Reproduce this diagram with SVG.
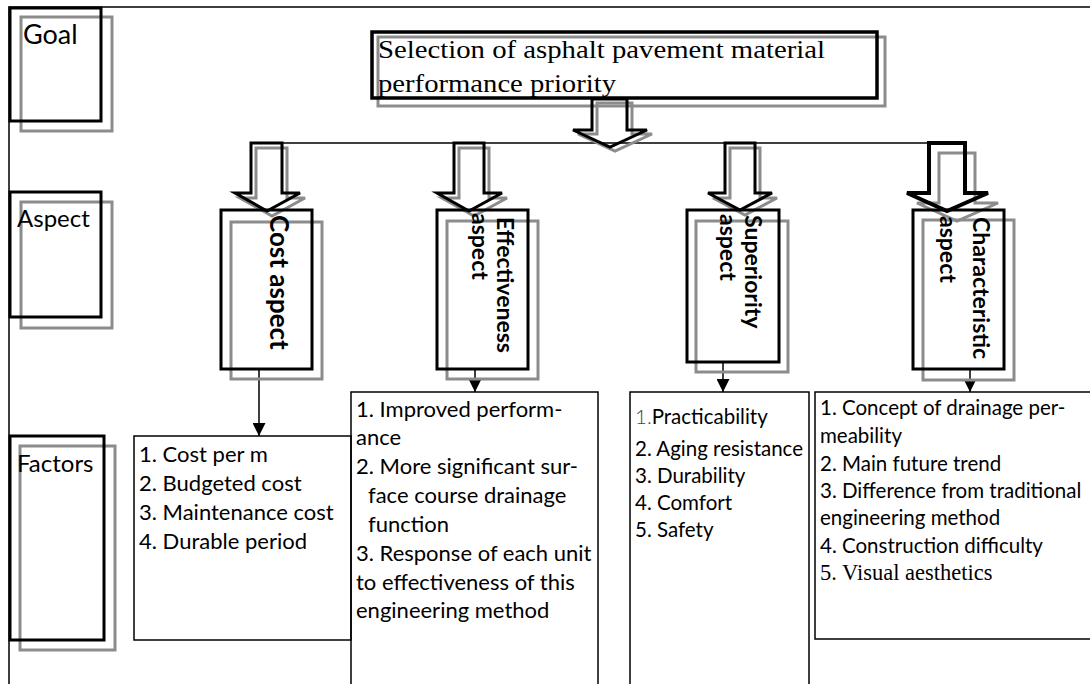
<svg xmlns="http://www.w3.org/2000/svg" width="1090" height="684" viewBox="0 0 1090 684">
<style>
.blk{fill:none;stroke:#000;stroke-width:3}
.gry{fill:none;stroke:#8c8c8c;stroke-width:3}
.thin{fill:none;stroke:#000;stroke-width:1.5}
.lbl{font-family:Lato,"Liberation Sans",sans-serif;font-size:24px;fill:#000}
.rot{font-family:Lato,"Liberation Sans",sans-serif;font-size:23px;font-weight:bold;fill:#000}
.body{font-family:Lato,"Liberation Sans",sans-serif;font-size:22px;fill:#000}
.small{font-family:Lato,"Liberation Sans",sans-serif;font-size:20.5px;fill:#000}
.serif{font-family:"Liberation Serif","Times New Roman",serif;fill:#000}
</style>
<defs>
<marker id="ah" markerUnits="userSpaceOnUse" markerWidth="13" markerHeight="13" refX="13" refY="6.5" orient="auto">
<path d="M0,0 L13,6.5 L0,13 z" fill="#000"/>
</marker>
</defs>

<g id="frame">
<path class="thin" d="M9,684 V7 H1090"/>
</g>

<g id="goal-label">
<rect class="gry" x="21" y="17" width="91" height="114"/>
<rect class="blk" x="10" y="8" width="91" height="113"/>
<text class="lbl" x="23" y="44" style="font-size:27px">Goal</text>
</g>
<g id="aspect-label">
<rect class="gry" x="21" y="202" width="91" height="126"/>
<rect class="blk" x="10" y="192" width="91" height="125"/>
<text class="lbl" x="17" y="227">Aspect</text>
</g>
<g id="factors-label">
<rect class="gry" x="20" y="446" width="95" height="204"/>
<rect class="blk" x="10" y="436" width="94" height="204"/>
<text class="lbl" x="17" y="472">Factors</text>
</g>

<g id="title">
<text class="serif" font-size="25" x="378" y="58" textLength="447" lengthAdjust="spacingAndGlyphs">Selection of asphalt pavement material</text>
<text class="serif" font-size="25" x="378" y="92" textLength="238" lengthAdjust="spacingAndGlyphs">performance priority</text>
<rect class="gry" x="378" y="37" width="507" height="69"/>
<rect class="blk" x="372" y="32" width="505" height="66" style="stroke-width:3.5"/>
</g>

<g id="connectors">
<line class="thin" x1="251" y1="143" x2="965" y2="143"/>
<polygon class="gry" points="597,103 632,103 632,134 652,134 615,151 578,134 597,134"/>
<polygon class="blk" points="592,99 627,99 627,130 647,130 610,147 573,130 592,130"/>
<polygon class="gry" points="256,148 287,148 287,198 305,198 272,216 240,198 256,198"/>
<polygon class="blk" points="251,143 282,143 282,193 300,193 267,211 235,193 251,193"/>
<polygon class="gry" points="459,148 489,148 489,198 507,198 474,216 442,198 459,198"/>
<polygon class="blk" points="454,143 484,143 484,193 502,193 469,211 437,193 454,193"/>
<polygon class="gry" points="730,148 760,148 760,198 777,198 745,215 713,198 730,198"/>
<polygon class="blk" points="725,143 755,143 755,193 772,193 740,210 708,193 725,193"/>
<polygon class="gry" points="939,153 975,153 975,203 998,203 957,221 917,203 939,203"/>
<polygon class="blk" points="929,143 965,143 965,193 988,193 947,211 907,193 929,193" style="stroke-width:4"/>
<line class="thin" x1="259" y1="369" x2="259" y2="436" marker-end="url(#ah)"/>
<line class="thin" x1="475" y1="369" x2="475" y2="392" marker-end="url(#ah)"/>
<line class="thin" x1="723" y1="362" x2="723" y2="392" marker-end="url(#ah)"/>
<line class="thin" x1="970" y1="369" x2="970" y2="392" marker-end="url(#ah)"/>
</g>

<g id="cost-aspect">
<rect class="gry" x="231" y="222" width="91" height="157"/>
<rect class="blk" x="221" y="210" width="91" height="159"/>
<text class="rot" style="font-size:26px" transform="translate(270,215) rotate(90)">Cost aspect</text>
</g>
<g id="effectiveness-aspect">
<rect class="gry" x="447" y="221" width="91" height="158"/>
<rect class="blk" x="437" y="210" width="91" height="159"/>
<text class="rot" transform="translate(497,217) rotate(90)">Effectiveness</text>
<text class="rot" transform="translate(472,213) rotate(90)">aspect</text>
</g>
<g id="superiority-aspect">
<rect class="gry" x="696" y="221" width="92" height="151"/>
<rect class="blk" x="687" y="210" width="92" height="152"/>
<text class="rot" transform="translate(745,215) rotate(90)">Superiority</text>
<text class="rot" transform="translate(720,214) rotate(90)">aspect</text>
</g>
<g id="characteristic-aspect">
<rect class="gry" x="923" y="220" width="91" height="160"/>
<rect class="blk" x="913" y="210" width="91" height="159"/>
<text class="rot" transform="translate(973,217) rotate(90)">Characteristic</text>
<text class="rot" transform="translate(940,216) rotate(90)">aspect</text>
</g>

<g id="cost-factors">
<rect class="thin" x="134" y="436" width="217" height="204"/>
<text class="body" x="139" y="462">1. Cost per m</text>
<text class="body" x="139" y="491">2. Budgeted cost</text>
<text class="body" x="139" y="520">3. Maintenance cost</text>
<text class="body" x="139" y="549">4. Durable period</text>
</g>
<g id="effectiveness-factors">
<path class="thin" d="M351,684 V392 H598 V684"/>
<text class="body" x="356" y="417">1. Improved perform-</text>
<text class="body" x="356" y="445">ance</text>
<text class="body" x="356" y="474">2. More significant sur-</text>
<text class="body" x="368" y="503">face course drainage</text>
<text class="body" x="368" y="532">function</text>
<text class="body" x="356" y="561">3. Response of each unit</text>
<text class="body" x="356" y="590">to effectiveness of this</text>
<text class="body" x="356" y="618">engineering method</text>
</g>
<g id="superiority-factors">
<path class="thin" d="M630,684 V392 H809 V684"/>
<text class="small" x="635" y="424"><tspan style="font-weight:300;fill:#444">1.</tspan>Practicability</text>
<text class="small" x="635" y="456">2. Aging resistance</text>
<text class="small" x="635" y="483">3. Durability</text>
<text class="small" x="635" y="510">4. Comfort</text>
<text class="small" x="635" y="537">5. Safety</text>
</g>
<g id="characteristic-factors">
<path class="thin" d="M1095,392 H815 V639 H1095"/>
<text class="small" x="820" y="415">1. Concept of drainage per-</text>
<text class="small" x="820" y="443">meability</text>
<text class="small" x="820" y="471">2. Main future trend</text>
<text class="small" x="820" y="498">3. Difference from traditional</text>
<text class="small" x="820" y="525">engineering method</text>
<text class="small" x="820" y="553">4. Construction difficulty</text>
<text class="serif" font-size="22.5" x="820" y="580">5. Visual aesthetics</text>
</g>
</svg>
